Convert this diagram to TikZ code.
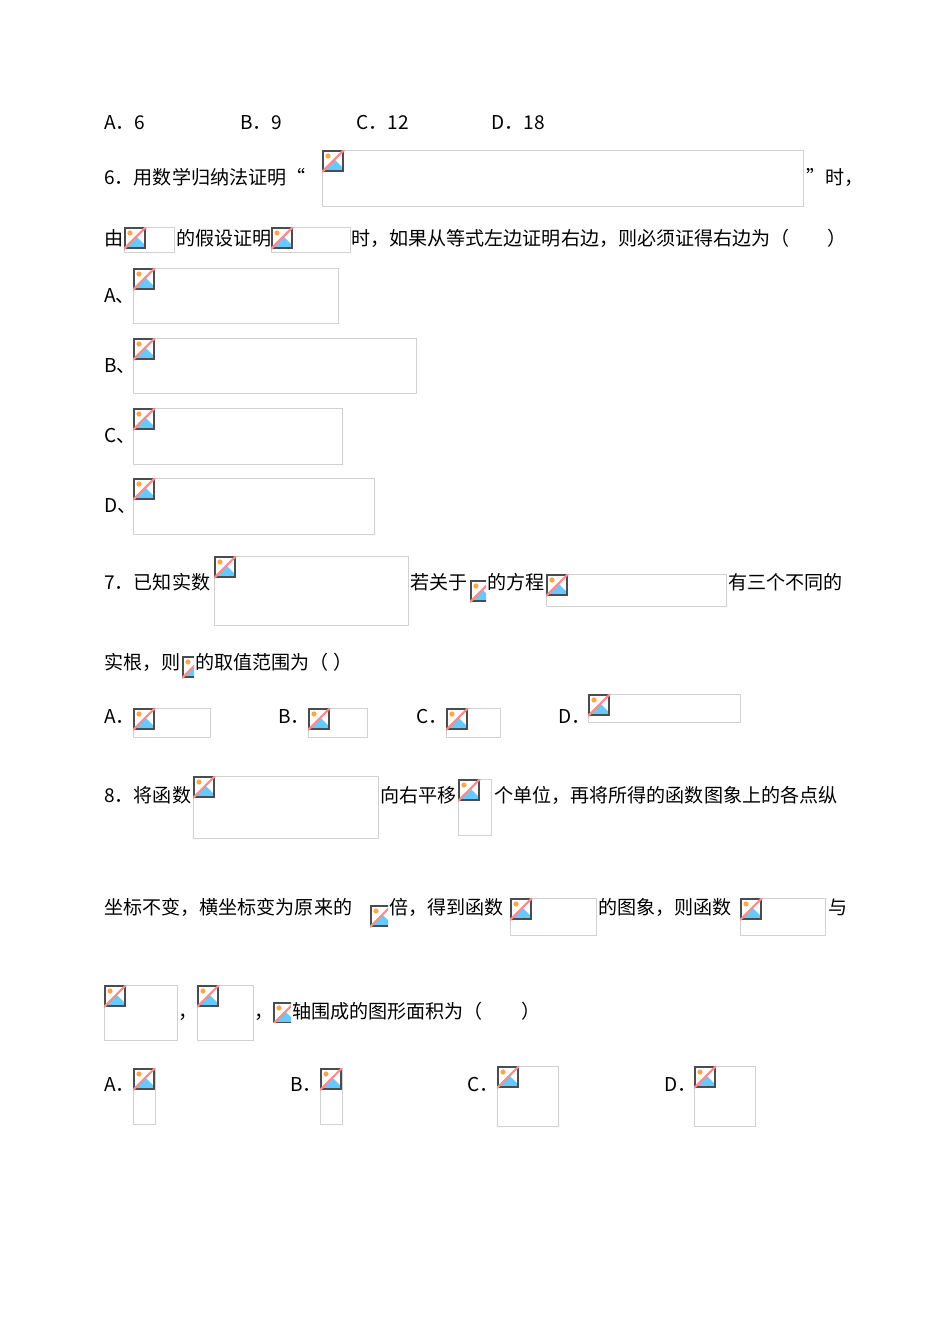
\documentclass[tikz,border=0pt]{standalone}
\usepackage{fontspec}
\setmainfont{Noto Sans CJK SC}
\begin{document}
\begin{tikzpicture}[x=0.75pt,y=-0.75pt,
  txt/.style={anchor=base west,inner sep=0pt,font=\fontsize{14.3}{16}\selectfont},
  frame/.style={draw=black!18,line width=0.6pt}]
\useasboundingbox (0,0) rectangle (950,1342);
\newcommand\icon[4]{%x y w h (clip size)
 \begin{scope}
  \clip (#1,#2) rectangle ++(#3,#4);
  \fill[white] (#1,#2) rectangle ++(22,22);
  \fill[blue!35!cyan!60] (#1+3,#2+20) -- (#1+13,#2+10) -- (#1+20,#2+17) -- (#1+20,#2+20) -- cycle;
  \fill[orange!70] (#1+6,#2+6) circle (2.6);
  \draw[black!70,line width=0.9pt] (#1+1,#2+1) rectangle (#1+21,#2+21);
  \draw[red!45,line width=1.6pt] (#1,#2+22) -- (#1+22,#2);
 \end{scope}}
\newcommand\imgbox[5]{% name x1 y1 x2 y2
 \node[frame,inner sep=0pt,minimum width=(#4-#2)*0.75pt,minimum height=(#5-#3)*0.75pt,anchor=north west] (#1) at (#2,#3) {};
 \icon{#2}{#3}{#4-#2}{#5-#3}}
\newcommand\smallicon[5]{% name x1 y1 x2 y2
 \coordinate (#1) at (#2,#3);
 \icon{#2}{#3}{#4-#2}{#5-#3}}
% row 1
\node[txt] (a5) at (104,129) {A．6};
\node[txt] (b5) at (240,129) {B．9};
\node[txt] (c5) at (356,129) {C．12};
\node[txt] (d5) at (491,129) {D．18};
% Q6
\node[txt] (q6) at (104,184) {6．用数学归纳法证明“};
\imgbox{i1}{322}{150}{803}{206}
\node[txt] (q6b) at (806,184) {”时，};
\node[txt] (q6c) at (104,245) {由};
\imgbox{i2}{124}{227}{174}{252}
\node[txt] (q6d) at (176,245) {的假设证明};
\imgbox{i3}{271}{227}{350}{252}
\node[txt] (q6e) at (351,245) {时，如果从等式左边证明右边，则必须证得右边为（　　）};
\node[txt] (oa) at (104,302) {A、};
\imgbox{i4}{133}{268}{338}{323}
\node[txt] (ob) at (104,372) {B、};
\imgbox{i5}{133}{338}{416}{393}
\node[txt] (oc) at (104,442) {C、};
\imgbox{i6}{133}{408}{342}{464}
\node[txt] (od) at (104,512) {D、};
\imgbox{i7}{133}{478}{374}{534}
% Q7
\node[txt] (q7) at (104,589) {7．已知实数};
\imgbox{i8}{214}{556}{408}{625}
\node[txt] (q7b) at (410,589) {若关于};
\smallicon{s1}{470}{580}{486}{602}
\node[txt] (q7c) at (487,589) {的方程};
\imgbox{i9}{546}{574}{726}{606}
\node[txt] (q7d) at (728,589) {有三个不同的};
\node[txt] (q7e) at (104,669) {实根，则};
\smallicon{s2}{182}{656}{194}{678}
\node[txt] (q7f) at (195,669) {的取值范围为（ ）};
\node[txt] (o7a) at (104,723) {A．};
\imgbox{i10}{133}{708}{210}{737}
\node[txt] (o7b) at (278,723) {B．};
\imgbox{i11}{308}{708}{367}{737}
\node[txt] (o7c) at (416,723) {C．};
\imgbox{i12}{446}{708}{500}{737}
\node[txt] (o7d) at (558,723) {D．};
\imgbox{i13}{588}{694}{740}{722}
% Q8
\node[txt] (q8) at (104,802) {8．将函数};
\imgbox{i14}{193}{776}{378}{838}
\node[txt] (q8b) at (380,802) {向右平移};
\imgbox{i15}{458}{779}{491}{835}
\node[txt] (q8c) at (494,802) {个单位，再将所得的函数图象上的各点纵};
\node[txt] (q8d) at (104,914) {坐标不变，横坐标变为原来的};
\smallicon{s3}{370}{905}{388}{928}
\node[txt] (q8e) at (389,914) {倍，得到函数};
\imgbox{i16}{510}{898}{596}{935}
\node[txt] (q8f) at (598,914) {的图象，则函数};
\imgbox{i17}{740}{898}{825}{935}
\node[txt] (q8g) at (828,914) {与};
\imgbox{i18}{104}{985}{177}{1040}
\node[txt] (q8h) at (178,1018) {，};
\imgbox{i19}{197}{985}{253}{1040}
\node[txt] (q8i) at (254,1018) {，};
\smallicon{s4}{273}{1002}{291}{1022}
\node[txt] (q8j) at (292,1018) {轴围成的图形面积为（　　）};
\node[txt] (o8a) at (104,1091) {A．};
\imgbox{i20}{133}{1068}{155}{1124}
\node[txt] (o8b) at (290,1091) {B．};
\imgbox{i21}{320}{1068}{342}{1124}
\node[txt] (o8c) at (467,1091) {C．};
\imgbox{i22}{497}{1066}{558}{1126}
\node[txt] (o8d) at (664,1091) {D．};
\imgbox{i23}{694}{1066}{755}{1126}
\end{tikzpicture}
\end{document}
